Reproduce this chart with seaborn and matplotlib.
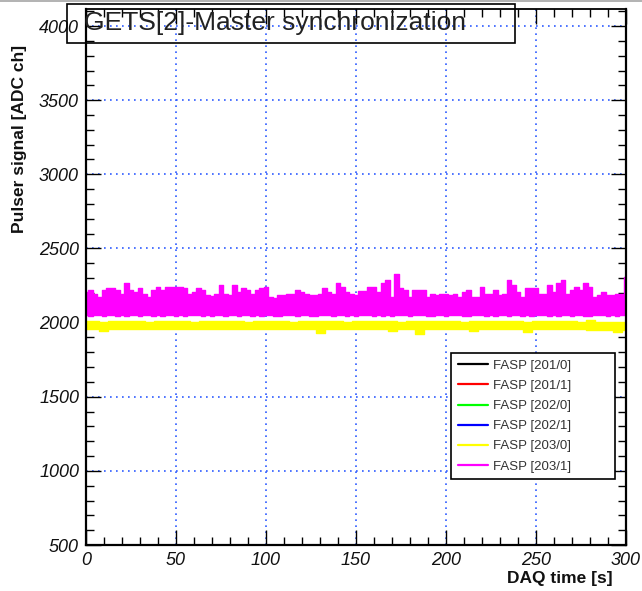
import numpy as np
import pandas as pd
import matplotlib
matplotlib.use("Agg")
import matplotlib.pyplot as plt
from matplotlib.lines import Line2D
from matplotlib.patches import Rectangle
from matplotlib.ticker import MultipleLocator
import seaborn as sns

# ---------------------------------------------------------------- data
channels = ["FASP [201/0]", "FASP [201/1]", "FASP [202/0]",
            "FASP [202/1]", "FASP [203/0]", "FASP [203/1]"]
colors = ["#000000", "#ff0000", "#00ff00", "#0000ff", "#ffff00", "#ff00ff"]

# FASP [203/1] : envelope of the pulser amplitude, sampled every 2.5 s
t_203_1 = np.arange(0, 300.01, 2.5)
high_203_1 = [
    2207, 2219, 2190, 2174, 2219, 2230, 2230, 2219, 2196, 2264,
    2219, 2207, 2230, 2196, 2174, 2219, 2241, 2219, 2241, 2241,
    2241, 2241, 2230, 2196, 2207, 2230, 2219, 2185, 2180, 2190,
    2252, 2196, 2185, 2252, 2207, 2230, 2219, 2196, 2219, 2230,
    2241, 2174, 2163, 2185, 2185, 2196, 2196, 2219, 2207, 2190,
    2185, 2185, 2196, 2230, 2207, 2196, 2264, 2241, 2207, 2196,
    2185, 2213, 2213, 2241, 2241, 2207, 2264, 2286, 2174, 2331,
    2230, 2219, 2174, 2219, 2219, 2219, 2174, 2196, 2185, 2196,
    2196, 2185, 2190, 2174, 2207, 2219, 2174, 2174, 2241, 2196,
    2196, 2219, 2185, 2196, 2286, 2252, 2207, 2174, 2230, 2230,
    2230, 2196, 2196, 2252, 2207, 2264, 2286, 2196, 2219, 2241,
    2219, 2264, 2241, 2174, 2185, 2207, 2185, 2185, 2196, 2196,
    2309,
]
low_203_1 = [
    2050, 2046, 2052, 2048, 2044, 2050, 2054, 2047, 2049, 2045,
    2051, 2048, 2046, 2053, 2049, 2047, 2050, 2044, 2048, 2052,
    2047, 2050, 2046, 2049, 2053, 2048, 2045, 2050, 2047, 2051,
    2049, 2046, 2050, 2048, 2044, 2052, 2049, 2047, 2050, 2046,
    2048, 2052, 2047, 2045, 2050, 2049, 2053, 2046, 2048, 2050,
    2047, 2044, 2049, 2051, 2048, 2046, 2050, 2053, 2047, 2049,
    2045, 2050, 2048, 2052, 2046, 2049, 2047, 2050, 2044, 2048,
    2051, 2049, 2046, 2050, 2048, 2053, 2047, 2045, 2050, 2049,
    2046, 2051, 2048, 2050, 2047, 2044, 2049, 2052, 2048, 2046,
    2050, 2047, 2053, 2049, 2045, 2048, 2051, 2047, 2050, 2046,
    2049, 2052, 2048, 2045, 2050, 2047, 2049, 2053, 2046, 2048,
    2050, 2047, 2044, 2049, 2051, 2048, 2046, 2050, 2047, 2049,
    2050,
]

# FASP [203/0] : envelope sampled every 5 s
t_203_0 = np.arange(0, 300.01, 5.0)
high_203_0 = [
    2008, 2010, 2006, 2012, 2008, 2009, 2011, 2007, 2010, 2008,
    2013, 2009, 2007, 2010, 2012, 2008, 2009, 2011, 2007, 2010,
    2008, 2012, 2009, 2006, 2010, 2011, 2008, 2013, 2009, 2007,
    2010, 2008, 2012, 2009, 2011, 2007, 2010, 2008, 2009, 2012,
    2008, 2010, 2007, 2011, 2009, 2012, 2008, 2010, 2009, 2007,
    2011, 2008, 2010, 2012, 2009, 2006, 2018, 2004, 2003, 2005,
    2004,
]
low_203_0 = [
    1958, 1956, 1940, 1957, 1959, 1955, 1958, 1956, 1960, 1957,
    1955, 1958, 1956, 1959, 1957, 1954, 1958, 1956, 1957, 1959,
    1955, 1957, 1958, 1956, 1959, 1957, 1930, 1956, 1958, 1955,
    1957, 1959, 1956, 1958, 1945, 1957, 1955, 1926, 1958, 1956,
    1959, 1957, 1955, 1940, 1958, 1956, 1957, 1959, 1955, 1936,
    1958, 1956, 1957, 1955, 1958, 1956, 1952, 1950, 1948, 1938,
    1950,
]

bands = [
    ("FASP [203/0]", t_203_0, low_203_0, high_203_0),
    ("FASP [203/1]", t_203_1, low_203_1, high_203_1),
]

x_major = [0, 50, 100, 150, 200, 250, 300]
y_major = [500, 1000, 1500, 2000, 2500, 3000, 3500, 4000]

# ---------------------------------------------------------------- style
sns.set_style("white")
plt.rcParams["font.family"] = ["Liberation Sans", "DejaVu Sans"]

fig = plt.figure(figsize=(6.42, 5.91), dpi=100)
W, H = 642, 591
ax = fig.add_axes([86 / W, 1 - 545 / H, (626 - 86) / W, (545 - 9) / H])

palette = dict(zip(channels, colors))

for name, t, lo, hi in bands:
    c = palette[name]
    ax.fill_between(t, lo, hi, step="mid", color=c, lw=0, zorder=2)
    edges = pd.DataFrame({"t": np.concatenate([t, t]),
                          "v": np.concatenate([hi, lo]),
                          "edge": ["hi"] * len(t) + ["lo"] * len(t)})
    sns.lineplot(data=edges, x="t", y="v", units="edge", estimator=None,
                 color=c, lw=1, drawstyle="steps-mid", ax=ax,
                 legend=False, zorder=2)

ax.set_xlim(0, 300)
ax.set_ylim(500, 4115)
ax.set_xlabel("")
ax.set_ylabel("")
ax.set_xticks(x_major)
ax.set_yticks(y_major)
ax.xaxis.set_minor_locator(MultipleLocator(10))
ax.yaxis.set_minor_locator(MultipleLocator(100))

ax.grid(True, which="major", color="#2f5cff", linestyle=(0, (1, 2.6)),
        lw=1.2)
ax.tick_params(which="both", direction="in", top=True, right=True,
               bottom=True, left=True, color="black", width=1)
ax.tick_params(which="major", length=11)
ax.tick_params(which="minor", length=5.5)
ax.tick_params(axis="both", which="major", labelsize=13, pad=5,
               labelcolor="#111111")
for lab in ax.get_xticklabels() + ax.get_yticklabels():
    lab.set_fontstyle("italic")

for side in ["left", "bottom", "right"]:
    ax.spines[side].set_linewidth(1.6)
    ax.spines[side].set_color("black")
ax.spines["top"].set_linewidth(1.3)
ax.spines["top"].set_color("black")

# axis titles, aligned to the end of each axis
fig.text(20 / W, 1 - 45 / H, "Pulser signal [ADC ch]", rotation=90,
         ha="center", va="top", fontsize=12.5, fontweight="bold",
         color="#111111")
fig.text(613 / W, 1 - 578 / H, "DAQ time [s]", ha="right", va="center",
         fontsize=12.5, fontweight="bold", color="#111111")

# window edge along the top
fig.patches.append(Rectangle((0, 1 - 2 / H), 1, 2 / H,
                             transform=fig.transFigure, fc="#b4b4b4",
                             ec="none"))

# title box
fig.patches.append(Rectangle((67 / W, 1 - 43 / H), (515 - 67) / W,
                             (43 - 4) / H, transform=fig.transFigure,
                             fill=False, ec="black", lw=1.2))
fig.text(84 / W, 1 - 23 / H, "GETS[2]-Master synchronization",
         ha="left", va="center", fontsize=19, color="#222222")

# legend
handles = [Line2D([], [], color=palette[n], lw=1.6) for n in channels]
leg = ax.legend(handles, channels, loc="upper left",
                bbox_to_anchor=(451 / W, 1 - 477 / H, 164 / W, 124 / H),
                bbox_transform=fig.transFigure, mode="expand",
                frameon=True, fancybox=False, framealpha=1,
                edgecolor="black", fontsize=9.5, handlelength=2.3,
                handletextpad=0.4, labelspacing=0.6, borderpad=0.5,
                borderaxespad=0)
leg.get_frame().set_linewidth(1.2)
for txt in leg.get_texts():
    txt.set_color("#333333")

fig.savefig("out.png", dpi=100)
